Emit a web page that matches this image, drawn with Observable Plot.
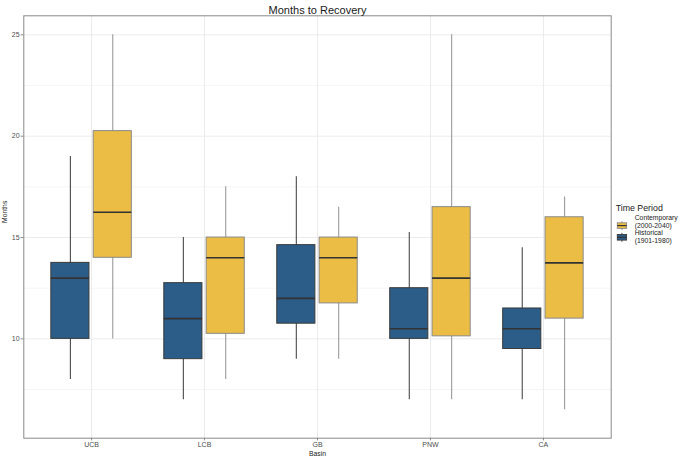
<!DOCTYPE html>
<html>
<head>
<meta charset="utf-8">
<script src="https://cdn.jsdelivr.net/npm/d3@7"></script>
<script src="https://cdn.jsdelivr.net/npm/@observablehq/plot@0.6"></script>
<style>
  body { margin: 0; background: #fff; }
  #wrap { position: relative; width: 685px; height: 459px; font-family: "Liberation Sans", Arial, sans-serif; }
  #legend { position: absolute; left: 610px; top: 195px; }
</style>
</head>
<body>
<div id="wrap"></div>
<script>
const basins = ["UCB", "LCB", "GB", "PNW", "CA"];
const periods = ["Historical (1901-1980)", "Contemporary (2000-2040)"];

const histMin = [8, 7, 9, 7, 7];
const histQ1  = [10, 9, 10.75, 10, 9.5];
const histMed = [13, 11, 12, 10.5, 10.5];
const histQ3  = [13.75, 12.75, 14.625, 12.5, 11.5];
const histMax = [19, 15, 18, 15.25, 14.5];

const contMin = [10, 8, 9, 7, 6.5];
const contQ1  = [14, 10.25, 11.75, 10.125, 11];
const contMed = [16.25, 14, 14, 13, 13.75];
const contQ3  = [20.25, 15, 15, 16.5, 16];
const contMax = [25, 17.5, 16.5, 25, 17];

const yMajor = [10, 15, 20, 25];
const yMinor = [7.5, 12.5, 17.5, 22.5];

const colors = {"Historical (1901-1980)": "#2c5d88", "Contemporary (2000-2040)": "#ebbd45"};
const boxStroke = {"Historical (1901-1980)": "#3a3a3a", "Contemporary (2000-2040)": "#8a8a8a"};
const whiskStroke = {"Historical (1901-1980)": "#4a4a4a", "Contemporary (2000-2040)": "#9a9a9a"};

const stats = [];
basins.forEach((b, i) => {
  stats.push({basin: b, idx: i + 1, period: periods[0], min: histMin[i], q1: histQ1[i], median: histMed[i], q3: histQ3[i], max: histMax[i]});
  stats.push({basin: b, idx: i + 1, period: periods[1], min: contMin[i], q1: contQ1[i], median: contMed[i], q3: contQ3[i], max: contMax[i]});
});

// dodge layout (ggplot position_dodge2, width 0.75, padding 0.1)
const dodge = 0.1875, half = 0.16875;
const center = d => d.idx + (d.period === periods[0] ? -dodge : dodge);

const plot = Plot.plot({
  width: 685,
  height: 459,
  marginTop: 15.3,
  marginLeft: 23.3,
  marginRight: 74.3,
  marginBottom: 21.3,
  style: {fontFamily: "Liberation Sans, Arial, sans-serif", background: "#fff"},
  x: {type: "linear", domain: [0.4, 5.6]},
  y: {domain: [5.1, 25.94]},
  marks: [
    Plot.gridY(yMinor, {stroke: "#f3f3f3", strokeOpacity: 1, strokeWidth: 0.8}),
    Plot.gridY(yMajor, {stroke: "#ebebeb", strokeOpacity: 1, strokeWidth: 1}),
    Plot.gridX(d3.range(1, basins.length + 1), {stroke: "#ebebeb", strokeOpacity: 1, strokeWidth: 1}),
    Plot.ruleX(stats, {x: center, y1: "min", y2: "max", stroke: d => whiskStroke[d.period], strokeWidth: 1.1}),
    Plot.rect(stats, {x1: d => center(d) - half, x2: d => center(d) + half, y1: "q1", y2: "q3",
      fill: d => colors[d.period], stroke: d => boxStroke[d.period], strokeWidth: 1}),
    Plot.ruleY(stats, {y: "median", x1: d => center(d) - half, x2: d => center(d) + half, stroke: "#333333", strokeWidth: 1.6}),
    Plot.frame({stroke: "#8a8a8a", strokeWidth: 1}),
    Plot.axisY(yMajor, {tickSize: 2.7, tickPadding: 1.5, fontSize: 7, color: "#4d4d4d", stroke: "#8a8a8a", label: null}),
    Plot.axisX(d3.range(1, basins.length + 1), {tickSize: 2.7, tickPadding: 1.5, fontSize: 7, color: "#4d4d4d", stroke: "#8a8a8a",
      tickFormat: v => basins[v - 1], label: null}),
    Plot.text(["Months to Recovery"], {frameAnchor: "top", dy: -9.8, fontSize: 11, fill: "#1a1a1a"}),
    Plot.text(["Months"], {frameAnchor: "left", dx: -18.6, dy: -4, rotate: -90, fontSize: 6.8, fill: "#1a1a1a"}),
    Plot.text(["Basin"], {frameAnchor: "bottom", dy: 17.3, fontSize: 6.8, fill: "#1a1a1a"})
  ]
});
document.getElementById("wrap").appendChild(plot);

// legend
const leg = d3.select("#wrap").append("svg").attr("id", "legend").attr("width", 75).attr("height", 56)
  .style("font-family", "Liberation Sans, Arial, sans-serif");
leg.append("text").attr("x", 5.7).attr("y", 16).attr("font-size", 8.8).attr("fill", "#1a1a1a").text("Time Period");
const legItems = [periods[1], periods[0]];
const keyTops = [25, 36.7];
const labelBase = [24.8, 40.4];
const lineGap = 7.8;
legItems.forEach((p, k) => {
  const kx = 5.75, kw = 12.4, kh = 11.2, ky = keyTops[k];
  const g = leg.append("g");
  const cx = kx + kw / 2;
  g.append("line").attr("x1", cx).attr("x2", cx).attr("y1", ky + kh * 0.1).attr("y2", ky + kh * 0.9)
    .attr("stroke", whiskStroke[p]).attr("stroke-width", 1);
  g.append("rect").attr("x", kx + kw * 0.125).attr("y", ky + kh * 0.25).attr("width", kw * 0.75).attr("height", kh * 0.5)
    .attr("fill", colors[p]).attr("stroke", boxStroke[p]).attr("stroke-width", 0.9);
  g.append("line").attr("x1", kx + kw * 0.125).attr("x2", kx + kw * 0.875).attr("y1", ky + kh / 2).attr("y2", ky + kh / 2)
    .attr("stroke", "#333").attr("stroke-width", 1.2);
  const i = p.indexOf(" ");
  const l1 = p.slice(0, i), l2 = p.slice(i + 1);
  g.append("text").attr("x", 24.7).attr("y", labelBase[k]).attr("font-size", 6.8).attr("fill", "#1a1a1a").text(l1);
  g.append("text").attr("x", 24.7).attr("y", labelBase[k] + lineGap).attr("font-size", 6.8).attr("fill", "#1a1a1a").text(l2);
});
</script>
</body>
</html>
